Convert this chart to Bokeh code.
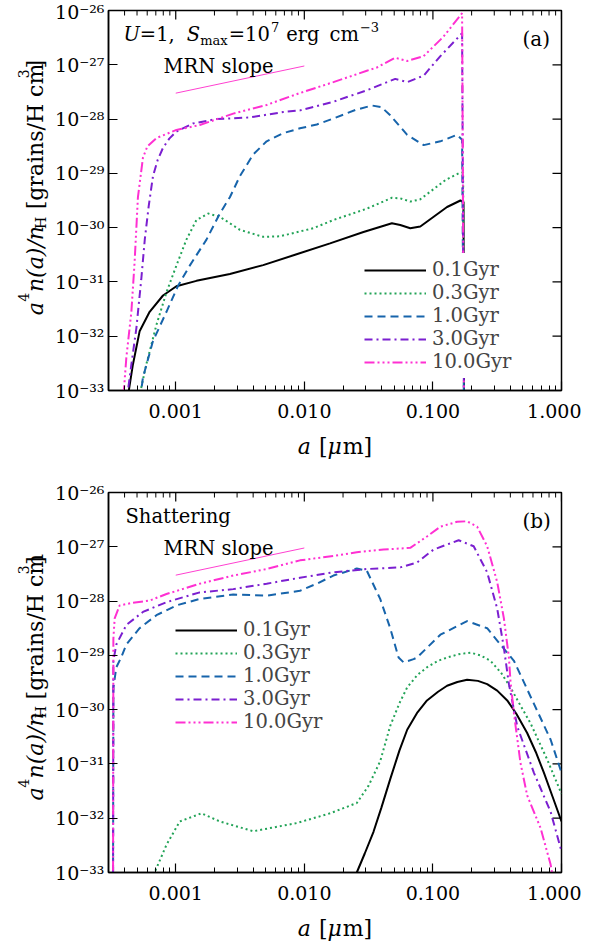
import math
import numpy as np
from bokeh.plotting import figure
from bokeh.models import FixedTicker, Label, Legend, LegendItem, Range1d, PrintfTickFormatter
from bokeh.layouts import column, row
from bokeh.embed import file_html
from bokeh.resources import INLINE

FONT = "DejaVu Serif"
X_MIN, X_MAX = 3e-4, 1.0
Y_MIN, Y_MAX = 1e-33, 1e-26
FW, FH = 453, 380
YLAB_W, BORDER_L, BORDER_R, BORDER_B = 52, 56, 20, 38

# ---------------- data (log10 a [um], log10 a^4 n(a)/nH) ----------------
ages = ["0.1Gyr", "0.3Gyr", "1.0Gyr", "3.0Gyr", "10.0Gyr"]
colors = ["#000000", "#22a357", "#1764ab", "#7b1fd0", "#ff30d2"]
dashes = ["solid", "2 3", "8 5", "8 4 2 4", "10 3 2 3 2 3 2 3"]

# panel (a): U=1, Smax=1e7
a01_la = [-3.40, -3.364, -3.333, -3.281, -3.203, -3.099, -2.995, -2.839, -2.579, -2.32, -2.06,
          -1.80, -1.54, -1.319, -1.254, -1.176, -1.098, -0.994, -0.89, -0.786, -0.762, -0.757]
a01_ly = [-33.6, -32.99, -32.52, -31.91, -31.55, -31.25, -31.08, -30.98, -30.855, -30.69, -30.49,
          -30.29, -30.08, -29.92, -29.95, -30.01, -29.98, -29.80, -29.62, -29.50, -29.53, -34.0]
a03_la = [-3.30, -3.273, -3.229, -3.15, -3.072, -2.995, -2.917, -2.839, -2.748, -2.657, -2.501,
          -2.32, -2.19, -1.93, -1.774, -1.514, -1.319, -1.254, -1.176, -1.10, -1.00, -0.90, -0.80,
          -0.765, -0.757]
a03_ly = [-33.5, -33.0, -32.52, -31.79, -31.19, -30.70, -30.22, -29.86, -29.74, -29.80, -30.04,
          -30.17, -30.16, -30.01, -29.86, -29.65, -29.45, -29.46, -29.52, -29.48, -29.30, -29.12,
          -29.0, -28.98, -34.0]
a10_la = [-3.29, -3.255, -3.177, -3.072, -2.982, -2.891, -2.761, -2.657, -2.579, -2.501, -2.397,
          -2.293, -2.164, -2.034, -1.903, -1.774, -1.60, -1.474, -1.40, -1.332, -1.20, -1.072,
          -0.942, -0.812, -0.773, -0.757]
a10_ly = [-33.4, -32.76, -32.09, -31.55, -31.07, -30.70, -30.22, -29.74, -29.44, -29.05, -28.65,
          -28.41, -28.26, -28.17, -28.10, -27.99, -27.83, -27.75, -27.78, -27.93, -28.29, -28.48,
          -28.41, -28.29, -28.38, -34.0]
a30_la = [-3.40, -3.371, -3.345, -3.306, -3.268, -3.24, -3.21, -3.177, -3.14, -3.099, -3.05,
          -2.995, -2.865, -2.683, -2.423, -2.164, -2.034, -1.774, -1.514, -1.293, -1.20, -1.072,
          -0.942, -0.773, -0.757]
a30_ly = [-33.6, -32.99, -32.52, -31.85, -30.95, -30.2, -29.6, -29.05, -28.75, -28.53, -28.36,
          -28.23, -28.08, -28.0, -27.97, -27.87, -27.84, -27.68, -27.47, -27.26, -27.32, -27.20,
          -26.84, -26.42, -34.0]
a100_la = [-3.43, -3.403, -3.384, -3.345, -3.32, -3.294, -3.255, -3.22, -3.15, -2.995, -2.813,
           -2.553, -2.293, -2.034, -1.774, -1.514, -1.436, -1.293, -1.20, -1.072, -0.917, -0.773,
           -0.757]
a100_ly = [-33.6, -32.99, -32.39, -31.55, -30.64, -29.44, -28.71, -28.5, -28.35, -28.20, -28.11,
           -27.90, -27.74, -27.52, -27.32, -27.11, -27.05, -26.87, -26.93, -26.84, -26.48, -26.05,
           -34.0]

# panel (b): shattering
b01_la = [-1.62, -1.592, -1.53, -1.462, -1.40, -1.332, -1.26, -1.20, -1.12, -1.046, -0.96, -0.89,
          -0.81, -0.734, -0.65, -0.578, -0.50, -0.422, -0.35, -0.267, -0.20, -0.137, -0.07, 0.0]
b01_ly = [-33.5, -33.0, -32.65, -32.25, -31.80, -31.28, -30.75, -30.37, -30.05, -29.83, -29.67,
          -29.56, -29.49, -29.45, -29.47, -29.53, -29.65, -29.83, -30.08, -30.43, -30.78, -31.16,
          -31.60, -32.06]
b03_la = [-3.20, -3.164, -3.072, -2.969, -2.80, -2.657, -2.397, -2.06, -1.80, -1.592, -1.50,
          -1.41, -1.332, -1.26, -1.20, -1.12, -1.046, -0.96, -0.89, -0.80, -0.708, -0.63, -0.552,
          -0.47, -0.397, -0.32, -0.241, -0.111, 0.0]
b03_ly = [-33.6, -33.0, -32.49, -32.06, -31.91, -32.06, -32.24, -32.09, -31.91, -31.72, -31.40,
          -30.95, -30.30, -29.88, -29.59, -29.36, -29.22, -29.10, -29.04, -28.98, -28.95, -29.00,
          -29.10, -29.32, -29.59, -29.92, -30.25, -30.92, -31.55]
b10_la = [-3.488, -3.485, -3.462, -3.425, -3.384, -3.281, -3.15, -2.995, -2.813, -2.553, -2.293,
          -2.034, -1.903, -1.774, -1.592, -1.514, -1.41, -1.332, -1.267, -1.228, -1.15, -1.124,
          -0.942, -0.734, -0.578, -0.475, -0.37, -0.215, -0.085, 0.0]
b10_ly = [-34.0, -29.6, -29.22, -29.04, -28.80, -28.50, -28.26, -28.08, -27.96, -27.88, -27.90,
          -27.81, -27.68, -27.53, -27.40, -27.44, -27.96, -28.50, -29.04, -29.13, -29.07, -29.04,
          -28.62, -28.37, -28.50, -28.80, -29.10, -29.89, -30.55, -31.16]
b30_la = [-3.488, -3.485, -3.462, -3.384, -3.255, -3.072, -2.813, -2.553, -2.293, -2.034, -1.774,
          -1.514, -1.254, -1.124, -0.994, -0.80, -0.683, -0.578, -0.50, -0.448, -0.409, -0.344,
          -0.215, -0.085, 0.0]
b30_ly = [-34.0, -29.1, -28.80, -28.44, -28.20, -28.02, -27.84, -27.78, -27.68, -27.57, -27.47,
          -27.41, -27.38, -27.29, -27.05, -26.88, -26.99, -27.47, -28.14, -28.86, -29.53, -30.31,
          -31.16, -31.88, -32.61]
b100_la = [-3.488, -3.485, -3.475, -3.436, -3.333, -3.203, -3.072, -2.813, -2.553, -2.293, -2.034,
           -1.774, -1.592, -1.384, -1.176, -1.046, -0.942, -0.812, -0.734, -0.656, -0.578, -0.50,
           -0.448, -0.409, -0.397, -0.37, -0.319, -0.267, -0.163, -0.085, -0.06]
b100_ly = [-34.0, -28.7, -28.32, -28.08, -28.03, -27.99, -27.87, -27.68, -27.53, -27.41, -27.25,
           -27.17, -27.10, -27.05, -27.02, -26.81, -26.63, -26.54, -26.53, -26.63, -26.99, -27.65,
           -28.32, -29.04, -29.47, -30.07, -30.98, -31.58, -32.18, -32.85, -33.2]

# MRN reference slope segment
mrn_a = [1e-3, 1e-2]
mrn_n = [3.0e-28, 9.5e-28]

x_major = [1e-3, 1e-2, 1e-1, 1.0]
y_exp = list(range(-33, -25))
y_major = [10.0 ** e for e in y_exp]
x_minor = [k * 10.0 ** e for e in range(-4, 0) for k in range(2, 10)
           if X_MIN <= k * 10.0 ** e <= X_MAX]

SUP = str.maketrans("-0123456789", "⁻⁰¹²³⁴⁵⁶⁷⁸⁹")

# ---------------- text metric helper (DejaVu Serif, em units) ----------------
W = {' ': .318, '(': .390, ')': .390, '/': .337, ',': .318, '.': .318, '=': .838, '[': .390,
     ']': .390, '−': .838, 'H': .872, 'M': .995, 'N': .853, 'R': .765, 'S': .686, 'U': .837,
     'a': .596, 'c': .561, 'e': .592, 'g': .640, 'h': .644, 'i': .320, 'l': .320, 'm': .948,
     'n': .644, 'o': .602, 'p': .640, 'r': .478, 's': .513, 't': .402, 'x': .580, 'y': .592,
     'μ': .644}


def tw(text, size):
    return sum(W.get(c, .636) for c in text) * size


LX0, LX1 = math.log10(X_MIN), math.log10(X_MAX)
LY0, LY1 = math.log10(Y_MIN), math.log10(Y_MAX)


def log_map(dx, dy):
    return (10 ** (LX0 + dx / FW * (LX1 - LX0)), 10 ** (LY1 - dy / FH * (LY1 - LY0)))


def px_map(dx, dy):
    return dx, dy


def lbl(fig, mapper, dx, dy, text, size, style="normal", angle=0.0):
    x, y = mapper(dx, dy)
    fig.add_layout(Label(x=x, y=y, text=text, text_font=FONT,
                         text_font_size=f"{size}px", text_font_style=style, angle=angle,
                         text_align="left", text_baseline="alphabetic", text_color="black"))


def hrun(fig, mapper, dx, dy, pieces):
    x = dx
    for text, size, style, shift, gap in pieces:
        x += gap
        lbl(fig, mapper, x, dy - shift, text, size, style)
        x += tw(text, size)


def total_w(pieces):
    return sum(g + tw(t, s) for t, s, _, _, g in pieces)


def vrun_center(fig, mapper, dx, cy, pieces):
    y = cy + total_w(pieces) / 2
    for text, size, style, shift, gap in pieces:
        y -= gap
        lbl(fig, mapper, dx - shift, y, text, size, style, angle=math.pi / 2)
        y -= tw(text, size)


def text_fig(width, height):
    f = figure(width=width, height=height, x_range=Range1d(0, width),
               y_range=Range1d(height, 0), min_border=0, x_axis_location=None,
               y_axis_location=None, toolbar_location=None, output_backend="svg",
               title=None)
    f.grid.visible = False
    f.outline_line_color = None
    return f


YLABEL = [("a", 22, "italic", 0, 0), ("4", 14, "normal", 12, 2),
          ("n(a)/n", 22, "italic", 0, 2), ("H", 14, "normal", -5, 5),
          ("[grains/H cm", 22, "normal", 0, 10), ("3", 14, "normal", 12, 2),
          ("]", 22, "normal", 0, 2)]
XLABEL = [("a", 22, "italic", 0, 0), ("[", 22, "normal", 0, 8), ("μ", 22, "italic", 0, 0),
          ("m]", 22, "normal", 0, 1)]


def make_panel(series, legend_loc, top_border, tag, title_pieces, xlab_h, xlab_base):
    p = figure(x_axis_type="log", y_axis_type="log",
               x_range=Range1d(X_MIN, X_MAX), y_range=Range1d(Y_MIN, Y_MAX),
               frame_width=FW, frame_height=FH, title=None,
               min_border_left=BORDER_L, min_border_right=BORDER_R, min_border_top=top_border,
               min_border_bottom=BORDER_B, output_backend="svg", toolbar_location=None)
    p.grid.visible = False
    p.outline_line_color = "black"
    p.outline_line_width = 1.5

    xa = p.xaxis[0]
    xa.ticker = FixedTicker(ticks=x_major, minor_ticks=x_minor)
    xa.formatter = PrintfTickFormatter(format="%.3f")
    ya = p.yaxis[0]
    ya.ticker = FixedTicker(ticks=y_major, minor_ticks=[])
    ya.major_label_overrides = {v: "10" + str(e).translate(SUP) for v, e in zip(y_major, y_exp)}
    for ax in (xa, ya):
        ax.major_label_text_font = FONT
        ax.major_label_text_font_size = "19px"
        ax.major_label_text_color = "black"
        ax.axis_line_width = 1.5
        ax.axis_line_color = "black"
        ax.major_tick_in = 9
        ax.major_tick_out = 0
        ax.major_tick_line_width = 1.2
        ax.minor_tick_in = 5
        ax.minor_tick_out = 0
        ax.minor_tick_line_width = 1
    ya.minor_tick_in = 0
    xa.major_label_standoff = 13
    ya.major_label_standoff = 4

    # mirrored inward ticks on top and right edges
    p.segment(x0=x_major, x1=x_major, y0=[Y_MAX] * len(x_major),
              y1=[log_map(0, 9)[1]] * len(x_major), line_color="black", line_width=1.2)
    p.segment(x0=x_minor, x1=x_minor, y0=[Y_MAX] * len(x_minor),
              y1=[log_map(0, 5)[1]] * len(x_minor), line_color="black", line_width=1)
    p.segment(x0=[X_MAX] * len(y_major), x1=[log_map(FW - 9, 0)[0]] * len(y_major),
              y0=y_major, y1=y_major, line_color="black", line_width=1.2)

    rends = []
    for (la, ly), col, dash in zip(series, colors, dashes):
        r = p.line(x=np.power(10.0, la), y=np.power(10.0, ly), line_color=col,
                   line_width=2, line_dash=dash)
        rends.append(r)
    p.line(x=mrn_a, y=mrn_n, line_color="#ff40d0", line_width=1)

    legend = Legend(items=[LegendItem(label=t, renderers=[r]) for t, r in zip(ages, rends)],
                    location=legend_loc, glyph_width=62, glyph_height=20, label_height=20,
                    label_standoff=6, spacing=-2, padding=5, margin=0,
                    border_line_alpha=0, background_fill_color="white",
                    background_fill_alpha=1.0, label_text_font=FONT,
                    label_text_font_size="19.5px")
    p.add_layout(legend)

    hrun(p, log_map, 15, 24, title_pieces)
    lbl(p, log_map, 414, 28, tag, 20)
    lbl(p, log_map, 55, 56, "MRN slope", 19.5)

    fig_h = top_border + FH + BORDER_B
    ylab = text_fig(YLAB_W, fig_h)
    vrun_center(ylab, px_map, 35, top_border + FH / 2, YLABEL)

    total_width = YLAB_W + BORDER_L + FW + BORDER_R
    xlab = text_fig(total_width, xlab_h)
    cx = YLAB_W + BORDER_L + FW / 2
    hrun(xlab, px_map, cx - total_w(XLABEL) / 2, xlab_base, XLABEL)
    return column(row(ylab, p), xlab)


series_a = [(a01_la, a01_ly), (a03_la, a03_ly), (a10_la, a10_ly), (a30_la, a30_ly),
            (a100_la, a100_ly)]
series_b = [(b01_la, b01_ly), (b03_la, b03_ly), (b10_la, b10_ly), (b30_la, b30_ly),
            (b100_la, b100_ly)]

title_a = [
    ("U", 19.5, "italic", 0, 0),
    ("=1,", 19.5, "normal", 0, 0),
    ("S", 19.5, "italic", 0, 12),
    ("max", 13, "normal", -6, 0),
    ("=10", 19.5, "normal", 0, 1),
    ("7", 13, "normal", 8, 1),
    ("erg", 19.5, "normal", 0, 7),
    ("cm", 19.5, "normal", 0, 10),
    ("−3", 13, "normal", 8, 1),
]
title_b = [("Shattering", 19.5, "normal", 0, 2)]

pa = make_panel(series_a, (251, 12), 10, "(a)", title_a, 34, 18)
pb = make_panel(series_b, (62, 134), 30, "(b)", title_b, 31, 18)

layout = column(pa, pb)
open("out.html", "w").write(file_html(layout, INLINE))
